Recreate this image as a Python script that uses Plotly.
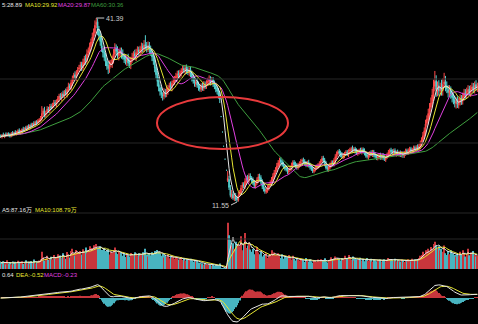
import numpy as np
import pandas as pd
import plotly.graph_objects as go

# ---------------- data ----------------
closes = [
22.1,22.4,22.2,22.5,22.3,22.6,22.4,22.2,22.7,22.5,22.8,22.6,22.9,23.1,22.8,
23.0,23.3,23.1,23.5,23.4,23.8,23.6,24.0,23.8,24.2,24.1,24.5,24.3,24.7,24.9,
25.2,25.9,26.3,25.7,26.0,26.6,26.4,27.0,26.8,27.3,27.6,27.4,27.9,28.3,28.7,
28.5,29.0,28.8,29.4,29.1,29.8,30.3,30.1,30.9,31.6,32.1,31.8,32.6,33.0,33.3,
33.8,33.4,34.2,34.8,34.5,35.6,36.1,36.8,37.5,38.3,39.1,40.2,40.7,39.4,38.5,
37.6,36.5,35.8,35.0,34.3,33.6,33.2,33.8,34.1,34.7,35.6,36.4,36.0,35.4,35.7,
36.0,35.5,35.1,34.7,34.4,34.8,34.1,33.9,34.5,35.0,35.5,35.2,35.8,36.1,35.9,
36.3,36.7,36.4,37.0,36.8,36.5,36.9,36.2,35.8,35.1,34.4,33.3,32.2,31.1,30.2,
29.5,29.0,28.8,29.3,29.1,29.6,30.0,30.4,30.2,30.8,31.2,31.5,31.9,32.3,32.1,
32.5,32.8,33.1,32.9,33.3,32.8,32.6,32.9,32.3,31.7,31.2,30.8,31.0,30.5,30.2,
29.9,30.3,30.1,30.6,30.4,30.8,31.1,31.4,31.0,31.3,30.7,30.3,29.9,29.5,28.9,
28.2,25.4,22.9,20.6,18.5,16.7,15.4,13.9,12.6,12.9,12.2,12.5,12.0,11.9,12.6,
13.1,13.8,14.3,14.1,14.9,15.4,15.1,15.7,15.5,15.0,14.6,14.2,14.5,15.1,15.6,
15.4,14.8,14.1,13.6,13.3,13.5,13.9,14.2,14.6,15.2,15.7,16.3,16.8,17.4,17.9,
18.3,18.0,17.6,17.3,17.0,16.8,16.5,16.7,17.1,17.5,17.9,17.6,17.4,17.2,17.5,
17.8,18.1,18.3,18.0,17.8,17.6,17.9,17.5,17.2,16.9,16.6,16.8,17.0,17.3,17.5,
17.8,18.2,18.6,18.3,17.7,17.1,16.9,17.2,17.6,17.9,17.7,18.3,18.9,19.4,19.7,
19.5,19.2,18.9,19.1,19.4,19.6,19.3,19.7,20.0,20.2,19.9,20.1,19.8,19.5,19.7,
19.9,19.7,20.0,19.8,19.4,19.1,18.9,19.2,19.5,19.3,19.6,19.2,18.9,18.7,18.9,
19.1,18.8,19.0,18.7,18.5,18.8,19.2,19.6,19.9,19.7,19.5,19.8,19.4,19.6,19.3,
19.5,19.2,19.4,19.1,19.5,19.8,19.6,19.9,20.1,19.8,20.0,20.3,20.1,20.4,20.2,
20.6,21.0,21.6,22.3,23.1,24.2,25.0,25.9,26.8,27.6,28.9,30.2,31.1,29.8,30.3,
29.6,30.1,29.7,30.6,31.0,30.4,29.9,29.3,29.6,29.0,28.5,28.0,27.6,27.9,27.4,
27.8,28.3,28.0,28.7,29.2,29.0,29.5,29.8,29.4,29.9,30.2,29.8,30.5,30.1,30.4,
]

opens = [
22.3,22.1,22.5,22.2,22.6,22.3,22.7,22.4,22.2,22.8,22.5,22.9,22.6,22.8,23.2,
22.7,23.0,23.4,23.2,23.6,23.4,23.9,23.5,24.1,23.8,24.3,24.0,24.6,24.3,24.6,
24.8,25.1,25.8,26.4,25.6,26.1,26.7,26.3,27.1,26.9,27.2,27.7,27.3,27.8,28.2,
28.8,28.4,29.1,28.7,29.5,29.0,29.7,30.4,30.0,30.8,31.5,32.2,31.7,32.5,33.1,
33.2,33.9,33.3,34.1,34.9,34.4,35.7,36.0,36.7,37.4,38.4,39.0,40.3,40.8,39.5,
38.6,37.7,36.4,35.9,35.1,34.4,33.7,33.1,33.9,34.0,34.6,35.5,36.5,36.1,35.3,
35.6,36.1,35.6,35.2,34.8,34.3,34.9,34.2,33.8,34.6,35.1,35.6,35.1,35.9,36.2,
35.8,36.2,36.8,36.3,37.1,36.9,36.4,37.0,36.3,35.9,35.2,34.5,33.4,32.3,31.2,
30.1,29.6,28.9,28.7,29.4,29.0,29.5,30.1,30.5,30.1,30.9,31.1,31.6,31.8,32.4,
32.0,32.4,32.9,33.2,32.8,33.4,32.9,32.5,33.0,32.4,31.8,31.3,30.7,31.1,30.6,
30.3,29.8,30.4,30.0,30.7,30.3,30.9,31.0,31.5,30.9,31.4,30.8,30.4,30.0,29.6,
28.9,25.4,22.9,20.6,18.5,16.7,15.0,15.2,13.8,12.4,12.8,12.1,12.6,12.2,11.8,
12.7,13.0,13.9,14.4,14.0,14.8,15.5,15.0,15.8,15.4,15.1,14.7,14.1,14.6,15.0,
15.7,15.5,14.9,14.2,13.7,13.2,13.4,13.8,14.3,14.5,15.1,15.6,16.4,16.7,17.3,
17.8,18.4,18.1,17.7,17.4,17.1,16.9,16.4,16.8,17.0,17.4,18.0,17.7,17.5,17.1,
17.4,17.7,18.2,18.4,18.1,17.9,17.5,18.0,17.6,17.3,17.0,16.5,16.9,17.1,17.2,
17.4,17.9,18.1,18.7,18.4,17.8,17.2,16.8,17.1,17.5,18.0,17.6,18.2,18.8,19.3,
19.8,19.6,19.3,18.8,19.0,19.5,19.7,19.2,19.8,19.9,20.3,19.8,20.2,19.9,19.4,
19.6,20.0,19.6,20.1,19.9,19.5,19.2,18.8,19.1,19.6,19.2,19.7,19.3,19.0,18.6,
18.8,19.2,18.7,19.1,18.8,18.4,18.9,19.1,19.5,20.0,19.8,19.4,19.9,19.3,19.7,
19.2,19.6,19.1,19.5,19.0,19.4,19.9,19.5,19.8,20.2,19.7,19.9,20.4,20.0,20.5,
20.1,20.5,20.9,21.5,22.2,23.0,24.3,24.8,25.8,26.9,27.5,28.8,30.3,31.2,29.7,
30.4,29.5,30.2,29.6,30.7,31.1,30.3,29.8,29.2,29.7,29.1,28.6,28.1,27.5,28.0,
27.3,27.7,28.4,27.9,28.6,29.3,28.9,29.4,29.9,29.3,29.8,30.3,29.7,30.6,30.0,
]

# wick lengths above / below the body, in hundredths of a yuan
upper_wick = [
20,15,30,10,25,20,15,30,20,25,15,30,20,25,30,
25,20,35,15,30,20,25,15,30,20,35,25,20,30,25,
30,120,45,60,35,50,30,45,40,35,50,40,30,45,40,
40,35,50,30,45,40,60,35,50,45,40,55,35,45,50,
50,40,60,45,55,70,50,60,55,70,60,80,69,50,60,
60,80,50,70,60,45,55,70,50,60,75,90,60,70,55,
60,50,70,45,60,55,70,50,60,75,50,65,60,70,55,
60,70,50,80,150,60,70,50,60,55,50,60,45,50,60,
50,60,45,70,50,60,55,50,60,45,70,50,60,55,50,
50,45,60,55,50,45,60,50,55,45,60,50,45,55,50,
40,50,45,55,40,50,60,70,45,50,40,45,50,40,45,
50,0,0,0,0,0,120,60,50,60,45,50,40,35,60,
40,50,45,35,50,40,45,50,40,35,45,40,35,45,50,
45,40,35,40,30,35,40,35,45,40,50,45,40,50,45,
45,40,35,40,30,35,30,40,35,45,40,35,40,35,40,
35,40,30,35,40,30,35,40,30,35,30,40,35,30,35,
35,30,40,35,30,40,35,30,35,40,30,35,40,35,30,
35,30,35,40,30,35,30,40,35,30,40,35,30,35,40,
30,35,40,30,35,30,40,35,30,35,40,30,35,30,35,
30,35,30,40,35,30,35,40,30,35,30,40,35,30,35,
35,30,40,30,35,40,30,35,40,30,35,40,30,35,40,
40,50,45,60,55,70,60,75,80,90,100,120,170,90,80,
90,80,120,100,150,90,80,70,90,60,70,60,70,60,70,
60,70,50,60,70,55,60,70,50,60,70,55,60,70,50,
]
lower_wick = [
15,25,10,30,20,15,25,20,15,30,20,15,25,20,15,
20,30,15,25,20,30,15,25,20,15,30,20,25,15,20,
25,40,30,45,30,35,40,30,35,25,40,30,35,30,40,
30,45,35,40,30,50,35,40,30,45,35,40,50,35,40,
40,60,45,50,70,40,55,45,60,50,70,60,55,80,70,
70,60,80,55,70,60,90,60,50,70,60,50,70,60,80,
50,70,45,60,55,70,50,60,70,45,60,55,70,50,60,
55,50,60,45,55,70,50,60,55,70,60,70,60,80,70,
70,60,80,50,60,45,55,60,45,60,50,55,45,60,50,
45,50,55,45,60,50,45,55,50,60,45,55,50,45,60,
45,40,50,45,55,40,45,50,55,40,50,45,55,50,60,
60,0,0,0,0,0,20,40,30,35,30,40,30,35,20,
30,35,40,30,35,40,45,35,40,45,30,40,35,30,40,
35,40,45,35,40,30,35,40,30,35,40,35,40,35,40,
40,35,30,40,35,30,40,35,30,35,40,30,35,40,30,
30,35,40,30,35,40,30,35,40,30,35,30,40,35,30,
30,35,30,40,35,30,40,35,30,35,40,30,35,30,40,
30,40,35,30,35,40,30,35,30,40,35,30,40,30,35,
35,30,35,40,30,35,30,40,35,30,35,40,30,35,30,
35,40,30,35,30,35,40,30,35,30,40,35,30,40,30,
30,35,30,40,30,35,40,30,35,40,30,35,40,30,35,
30,40,35,50,45,60,55,70,60,80,70,90,80,120,100,
80,70,90,80,60,90,70,80,60,70,80,60,70,80,60,
60,50,70,55,60,70,50,60,55,70,50,60,55,50,60,
]

# volume, in 万 (10k) shares
volumes = [
45,32,50,38,28,56,36,42,30,48,35,46,33,52,40,
38,50,32,44,56,37,46,34,51,40,60,36,48,42,54,
62,110,75,55,66,85,58,70,78,62,90,66,74,94,82,
86,70,100,78,66,108,92,74,115,130,100,85,122,108,96,
115,92,126,108,138,100,122,145,112,134,152,122,160,138,130,
145,122,108,134,115,100,126,92,111,103,122,138,107,96,115,
92,107,84,100,77,96,88,80,103,92,84,107,96,88,100,
84,96,107,88,130,92,80,100,88,107,96,115,103,122,111,
100,84,96,73,88,77,92,69,84,73,80,65,77,69,61,
65,73,58,69,54,61,50,58,65,54,46,58,50,54,42,
40,32,36,28,38,30,25,33,27,22,29,20,26,18,24,
35,5,4,4,5,6,295,215,185,150,165,130,175,140,160,
145,210,120,160,230,135,150,170,125,110,130,95,120,140,105,
95,110,80,90,75,100,70,85,95,120,80,105,90,75,100,
85,70,95,65,80,60,75,90,70,60,85,65,55,70,60,
55,65,50,60,45,70,55,48,62,50,40,58,52,45,60,
50,62,45,55,68,48,42,56,50,75,58,65,80,70,60,
65,55,70,60,85,58,66,90,72,60,80,55,68,62,57,
60,72,55,65,50,60,70,52,58,66,48,62,55,50,58,
52,60,48,56,62,50,58,70,64,52,60,55,66,50,58,
55,48,60,52,45,58,50,62,55,48,66,52,60,57,63,
70,85,90,110,95,120,105,130,115,140,125,160,175,150,135,
145,120,130,110,150,100,90,115,95,120,85,100,90,80,95,
85,110,90,120,100,80,95,130,88,105,75,115,90,80,86,
]

# legend texts as they are visible in the picture (first item is clipped at the left edge)
price_legend = [("5:28.89", "#e6e6e6"), ("MA10:29.92", "#e6e632"),
                ("MA20:29.87", "#e040e0"), ("MA60:30.36", "#3f9f3f")]
vol_legend = [("A5:87.16万", "#e6e6e6"), ("MA10:108.79万", "#e6e632")]
macd_legend = [("0.64", "#e6e6e6"), ("DEA:-0.52", "#e6e632"),
               ("MACD:-0.23", "#e040e0")]

# ---------------- derived series ----------------
o = np.array(opens, dtype=float)
c = np.array(closes, dtype=float)
h = np.maximum(o, c) + np.array(upper_wick) / 100.0
l = np.minimum(o, c) - np.array(lower_wick) / 100.0
v = np.array(volumes, dtype=float)
N = len(c)
x = np.arange(N)
cs = pd.Series(c)
ma = {n: cs.rolling(n, min_periods=1).mean() for n in (5, 10, 20, 60)}
vs = pd.Series(v)
vma5 = vs.rolling(5, min_periods=1).mean()
vma10 = vs.rolling(10, min_periods=1).mean()
ema12 = cs.ewm(span=12, adjust=False).mean()
ema26 = cs.ewm(span=26, adjust=False).mean()
dif = ema12 - ema26
dea = dif.ewm(span=9, adjust=False).mean()
hist = 2 * (dif - dea)

prev = np.r_[c[0], c[:-1]]
up = (c > o) | ((c == o) & (c >= prev))

RED = "#ff4a4a"
CYAN = "#54d2d2"
VRED = "#c8363c"
VCYAN = "#48b4c0"
MA_COL = {5: "#e6e6e6", 10: "#e6e632", 20: "#e040e0", 60: "#3f9f3f"}
W, H = 478, 324

fig = go.Figure()
fig.add_trace(go.Candlestick(
    x=x, open=o, high=h, low=l, close=c, xaxis="x", yaxis="y",
    increasing=dict(line=dict(color=RED, width=1), fillcolor=RED),
    decreasing=dict(line=dict(color=CYAN, width=1), fillcolor=CYAN),
    whiskerwidth=0, hoverinfo="skip"))
for n in (60, 20, 10, 5):
    fig.add_trace(go.Scatter(x=x, y=ma[n], mode="lines", xaxis="x", yaxis="y",
                             line=dict(color=MA_COL[n], width=1), hoverinfo="skip"))

fig.add_trace(go.Bar(x=x, y=v, xaxis="x2", yaxis="y2",
                     marker=dict(color=np.where(up, VRED, VCYAN), line=dict(width=0))))
fig.add_trace(go.Scatter(x=x, y=vma10, mode="lines", xaxis="x2", yaxis="y2",
                         line=dict(color="#e6e632", width=1)))
fig.add_trace(go.Scatter(x=x, y=vma5, mode="lines", xaxis="x2", yaxis="y2",
                         line=dict(color="#e6e6e6", width=1)))

fig.add_trace(go.Bar(x=x, y=hist, xaxis="x3", yaxis="y3",
                     marker=dict(color=np.where(hist >= 0, VRED, VCYAN), line=dict(width=0))))
fig.add_trace(go.Scatter(x=x, y=dea, mode="lines", xaxis="x3", yaxis="y3",
                         line=dict(color="#e6e632", width=1)))
fig.add_trace(go.Scatter(x=x, y=dif, mode="lines", xaxis="x3", yaxis="y3",
                         line=dict(color="#e6e6e6", width=1)))

def py(pix):
    return 1 - pix / H

lo_m = float(dif.min()) * 26 / 24
hi_m = -lo_m * 19 / 26
hi_m = max(hi_m, float(max(dif.max(), dea.max(), hist.max())) * 1.05)

ax_common = dict(showticklabels=False, showgrid=False, zeroline=False,
                 showline=False, range=[-0.5, N - 0.5], fixedrange=True)
ay_common = dict(showticklabels=False, showgrid=False, zeroline=False, showline=False)

shapes = []
for gy in (79, 143, 213, 239):
    shapes.append(dict(type="line", xref="paper", yref="paper", x0=0, x1=1,
                       y0=py(gy), y1=py(gy), line=dict(color="#262626", width=1)))
shapes.append(dict(type="circle", xref="paper", yref="paper",
                   x0=157 / W, x1=288 / W, y0=py(149), y1=py(97),
                   line=dict(color="#e83a3c", width=2)))

FONT = "Liberation Sans, Noto Sans CJK SC, sans-serif"
ann = []
def legend_row(items, ypix, starts):
    for (t, col), sx in zip(items, starts):
        ann.append(dict(xref="paper", yref="paper", x=sx / W, y=py(ypix),
                        xanchor="left", yanchor="middle", text=t, showarrow=False,
                        font=dict(size=6, color=col, family=FONT), borderpad=0))

legend_row(price_legend, 5, [0.5, 24, 57, 90])
legend_row(vol_legend, 210, [0.5, 34])
legend_row(macd_legend, 275, [0.5, 15, 43])

pk = int(np.argmax(h))
lw = int(np.argmin(l))
ann.append(dict(x=pk, y=h[pk], xref="x", yref="y", text=f"{h[pk]:.2f}",
                showarrow=True, arrowhead=0, arrowwidth=1, arrowcolor="#cccccc",
                ax=8, ay=0, xanchor="left", font=dict(size=7, color="#cccccc", family=FONT)))
ann.append(dict(x=lw, y=l[lw], xref="x", yref="y", text=f"{l[lw]:.2f}",
                showarrow=True, arrowhead=0, arrowwidth=1, arrowcolor="#cccccc",
                ax=-6, ay=3, xanchor="right", font=dict(size=7, color="#cccccc", family=FONT)))

fig.update_layout(
    width=W, height=H, margin=dict(l=0, r=0, t=0, b=0),
    paper_bgcolor="black", plot_bgcolor="black", showlegend=False,
    bargap=0.25,
    xaxis=dict(**ax_common, anchor="y", domain=[0, 1], rangeslider=dict(visible=False)),
    xaxis2=dict(**ax_common, anchor="y2", domain=[0, 1], matches="x"),
    xaxis3=dict(**ax_common, anchor="y3", domain=[0, 1], matches="x"),
    yaxis=dict(**ay_common, domain=[py(207), py(15)], range=[10.74, 41.88]),
    yaxis2=dict(**ay_common, domain=[py(269), py(213)], range=[0, 358]),
    yaxis3=dict(**ay_common, domain=[py(324), py(279)], range=[lo_m, hi_m]),
    shapes=shapes, annotations=ann,
)

fig.write_html("out.html")
